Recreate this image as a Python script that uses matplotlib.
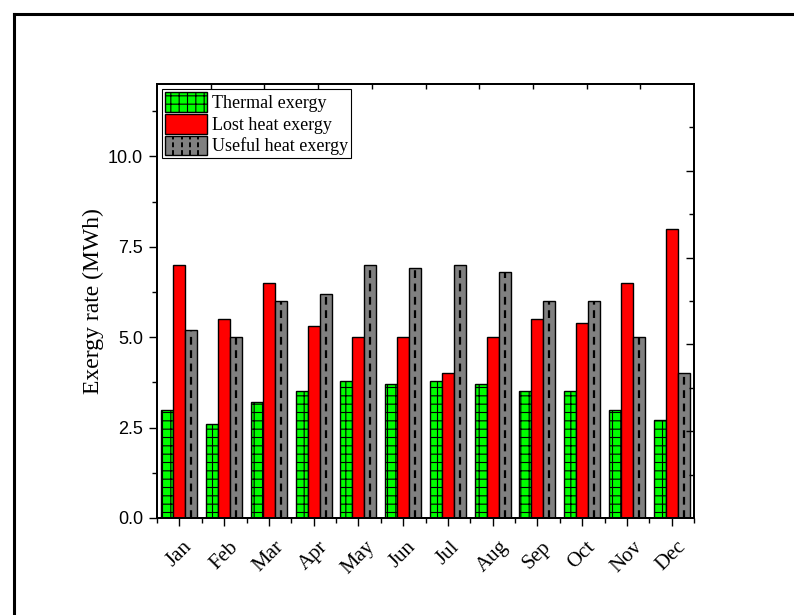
import matplotlib
matplotlib.use('Agg')
import matplotlib.pyplot as plt
import numpy as np
from matplotlib.legend_handler import HandlerPatch
from matplotlib.lines import Line2D
from matplotlib.ticker import MultipleLocator, FixedLocator, NullFormatter

# dados
meses = ['Jan', 'Feb', 'Mar', 'Apr', 'May', 'Jun', 'Jul', 'Aug', 'Sep', 'Oct', 'Nov', 'Dec']
thermal = [3.0, 2.6, 3.2, 3.5, 3.8, 3.7, 3.8, 3.7, 3.5, 3.5, 3.0, 2.7]
lost = [7.0, 5.5, 6.5, 5.3, 5.0, 5.0, 4.0, 5.0, 5.5, 5.4, 6.5, 8.0]
useful = [5.2, 5.0, 6.0, 6.2, 7.0, 6.9, 7.0, 6.8, 6.0, 6.0, 5.0, 4.0]
nomes = ['Thermal exergy', 'Lost heat exergy', 'Useful heat exergy']

serif = 'Liberation Serif'
sans = 'Liberation Sans'
plt.rcParams['hatch.linewidth'] = 0.8


class DashHandler(HandlerPatch):
    # patch do legenda com linhas verticais tracejadas
    def create_artists(self, legend, orig_handle, xdescent, ydescent, width, height, fontsize, trans):
        arts = super().create_artists(legend, orig_handle, xdescent, ydescent, width, height, fontsize, trans)
        for f in (0.2, 0.4, 0.6, 0.8):
            xx = -xdescent + f * width
            arts.append(Line2D([xx, xx], [-ydescent, -ydescent + height], color='k',
                               lw=1.4, ls=(0, (2.5, 1.5)), transform=trans))
        return arts


fig = plt.figure(figsize=(7.94, 6.15), dpi=100)
ax = fig.add_axes([157 / 794, 1 - 518 / 615, 537 / 794, 434 / 615])

x = np.arange(len(meses))
w = 0.267
b1 = ax.bar(x - w, thermal, w, color='#00ff00', edgecolor='k', linewidth=1.0, hatch='++')
b2 = ax.bar(x, lost, w, color='#ff0000', edgecolor='k', linewidth=1.0)
b3 = ax.bar(x + w, useful, w, color='#808080', edgecolor='k', linewidth=1.0)
ax.vlines(x + w, 0, useful, colors='k', linewidth=1.6, linestyles=(0, (3.5, 2.5)), zorder=3)

ax.set_xlim(-0.5, len(meses) - 0.5)
ax.set_ylim(0, 12)

ax.set_xticks(x)
ax.set_xticklabels(meses, rotation=45, ha='center', va='top', fontsize=15, family=serif)
ax.xaxis.set_minor_locator(FixedLocator(np.arange(-0.5, len(meses), 1.0)))
ax.yaxis.set_major_locator(MultipleLocator(2.5))
ax.yaxis.set_minor_locator(MultipleLocator(1.25))
ax.set_yticks([0, 2.5, 5.0, 7.5, 10.0])
ax.set_yticklabels(['0.0', '2.5', '5.0', '7.5', '10.0'], fontsize=13, family=sans)
ax.tick_params(which='major', direction='out', length=6, width=1.0, pad=4)
ax.tick_params(which='minor', direction='out', length=3.5, width=1.0)
ax.tick_params(axis='x', which='major', pad=8)

ax.set_ylabel('Exergy rate (MWh)', fontsize=17, family=serif, labelpad=3)

for s in ax.spines.values():
    s.set_linewidth(1.2)

# eixos auxiliares (direita e topo) só com marcas internas
axr = ax.twinx()
axr.set_ylim(0, 1)
axr.yaxis.set_major_locator(FixedLocator([0.2, 0.4, 0.6, 0.8]))
axr.yaxis.set_minor_locator(FixedLocator([0.1, 0.3, 0.5, 0.7, 0.9]))
axr.yaxis.set_major_formatter(NullFormatter())
axr.tick_params(which='major', direction='in', length=6, width=1.0)
axr.tick_params(which='minor', direction='in', length=3.5, width=1.0)

axt = ax.twiny()
axt.set_xlim(0, 1)
axt.xaxis.set_major_locator(FixedLocator(np.arange(1, 10) / 10))
axt.xaxis.set_major_formatter(NullFormatter())
axt.tick_params(which='major', direction='in', length=3.5, width=1.0)
axt.yaxis.set_visible(False)
for a in (axr, axt):
    for s in a.spines.values():
        s.set_linewidth(1.2)

leg = ax.legend([b1[0], b2[0], b3[0]], nomes, loc='upper left',
                handler_map={b3[0]: DashHandler()},
                prop={'family': serif, 'size': 13}, fancybox=False, edgecolor='k',
                framealpha=1, borderaxespad=0.3, borderpad=0.15, labelspacing=0.1,
                handlelength=2.3, handleheight=1.3, handletextpad=0.3)
leg.get_frame().set_linewidth(0.8)
leg.set_zorder(10)

# moldura parcial (topo e esquerda)
fig.add_artist(Line2D([14 / 794, 1], [1 - 13.5 / 615] * 2, transform=fig.transFigure, color='k', lw=2.2))
fig.add_artist(Line2D([14 / 794] * 2, [0, 1 - 13.5 / 615], transform=fig.transFigure, color='k', lw=2.2))

fig.savefig('out.png', dpi=100)
